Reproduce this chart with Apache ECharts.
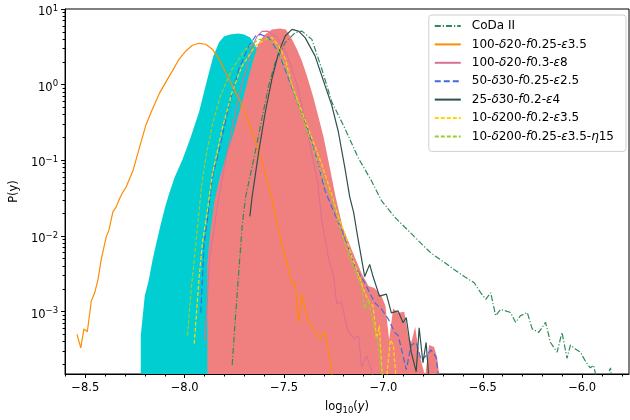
<!DOCTYPE html>
<html>
<head>
<meta charset="utf-8">
<script src="https://cdn.jsdelivr.net/npm/echarts@6/dist/echarts.min.js"></script>
<style>
  html, body { margin: 0; padding: 0; background: #fff; }
  #chart { width: 630px; height: 420px; }
</style>
</head>
<body>
<div id="chart"></div>
<script>
// tick positions
const xMajor = [-8.5, -8.0, -7.5, -7.0, -6.5, -6.0];
const xMinor = [-8.6, -8.4, -8.3, -8.2, -8.1, -7.9, -7.8, -7.7, -7.6, -7.4, -7.3, -7.2, -7.1,
  -6.9, -6.8, -6.7, -6.6, -6.4, -6.3, -6.2, -6.1, -5.9, -5.8];
const yMajor = [1e-3, 1e-2, 1e-1, 1, 10];

// shaded ensembles [log10(y), P]
const cyanFill = [[-8.221,4.8e-4],[-8.201,1.6e-3],[-8.181,2.6e-3],[-8.161,4.9e-3],[-8.141,8.4e-3],
  [-8.121,0.014],[-8.101,0.0226],[-8.081,0.0344],[-8.051,0.059],[-8.011,0.102],[-7.971,0.197],
  [-7.927,0.443],[-7.901,0.83],[-7.877,1.47],[-7.856,2.38],[-7.827,3.63],[-7.801,4.35],[-7.771,4.6],
  [-7.731,4.75],[-7.701,4.6],[-7.671,4.2],[-7.631,2.94],[-7.581,1.61],[-7.531,0.65],[-7.481,0.197],
  [-7.431,0.044],[-7.380,7.2e-3],[-7.330,1.6e-3],[-7.280,4.8e-4],[-7.240,1.2e-4]];

const pinkFill = [[-7.886,4.3e-3],[-7.871,0.0113],[-7.851,0.0279],[-7.826,0.0557],[-7.791,0.115],
  [-7.761,0.197],[-7.731,0.381],[-7.706,0.655],[-7.681,1.19],[-7.656,2.05],[-7.631,3.42],[-7.601,4.48],
  [-7.561,5.37],[-7.521,5.54],[-7.491,5.37],[-7.460,3.97],[-7.435,2.94],[-7.410,2.05],[-7.385,1.31],
  [-7.355,0.716],[-7.325,0.359],[-7.300,0.197],[-7.270,0.08],[-7.240,0.0324],[-7.205,0.0131],
  [-7.160,6.6e-3],[-7.110,3.2e-3],[-7.075,2.17e-3],[-7.045,2.04e-3],[-7.010,1.6e-3],[-6.990,1.2e-3],
  [-6.971,4.2e-4],[-6.951,1.1e-3],[-6.925,9.6e-4],[-6.895,9.9e-4],[-6.875,4.8e-4],[-6.860,3.9e-4],
  [-6.840,6.3e-4],[-6.825,3.3e-4],[-6.805,1.96e-4],[-6.790,1.4e-4],[-6.770,3.6e-4],[-6.745,3.4e-4],
  [-6.730,2.5e-4],[-6.715,1.2e-4]];

// model curves
const coda = [[-7.761,1.96e-4],[-7.744,8.8e-4],[-7.727,3.58e-3],[-7.711,0.0131],[-7.694,0.0324],
  [-7.683,0.0438],[-7.644,0.132],[-7.611,0.359],[-7.577,0.977],[-7.544,1.97],[-7.494,3.6],[-7.444,4.86],
  [-7.410,5.1],[-7.360,3.97],[-7.310,1.61],[-7.260,0.593],[-7.194,0.265],[-7.127,0.108],[-7.060,0.0535],
  [-7.010,0.0293],[-6.943,0.0177],[-6.843,9.7e-3],[-6.760,5.9e-3],[-6.710,4.8e-3],[-6.643,3.58e-3],
  [-6.593,2.9e-3],[-6.543,2.4e-3],[-6.510,1.77e-3],[-6.485,1.45e-3],[-6.460,1.77e-3],[-6.435,8.8e-4],
  [-6.410,1.07e-3],[-6.360,9.7e-4],[-6.335,7.2e-4],[-6.310,8.8e-4],[-6.276,9.7e-4],[-6.251,5.9e-4],
  [-6.218,5.3e-4],[-6.184,7.2e-4],[-6.159,3.9e-4],[-6.126,2.9e-4],[-6.101,5.3e-4],[-6.076,2.4e-4],
  [-6.059,3.6e-4],[-6.034,3.2e-4],[-6.009,2.9e-4],[-5.983,2.2e-4],[-5.959,1.8e-4],[-5.942,1.95e-4],
  [-5.925,1.2e-4],[-5.890,1.1e-4],[-5.857,1.8e-4],[-5.850,1.1e-4]];

const run100a = [[-8.542,5.0e-4],[-8.523,3.3e-4],[-8.507,5.9e-4],[-8.490,5.4e-4],[-8.470,1.38e-3],
  [-8.453,1.77e-3],[-8.436,2.67e-3],[-8.420,4.9e-3],[-8.395,9.7e-3],[-8.381,0.012],[-8.361,0.021],
  [-8.345,0.024],[-8.328,0.031],[-8.311,0.038],[-8.295,0.044],[-8.261,0.072],[-8.228,0.146],[-8.195,0.293],
  [-8.161,0.484],[-8.128,0.76],[-8.095,1.08],[-8.061,1.53],[-8.028,2.18],[-7.994,2.79],[-7.961,3.32],
  [-7.927,3.52],[-7.894,3.42],[-7.861,2.94],[-7.827,2.18],[-7.794,1.46],[-7.761,0.977],[-7.727,0.655],
  [-7.694,0.396],[-7.661,0.24],[-7.627,0.132],[-7.594,0.065],[-7.561,0.032],[-7.544,0.018],[-7.494,5.3e-3],
  [-7.460,2.4e-3],[-7.444,2.4e-3],[-7.427,7.2e-4],[-7.410,1.7e-3],[-7.377,7.2e-4],[-7.344,5.6e-4],
  [-7.319,4.4e-4],[-7.294,5.3e-4],[-7.269,2.4e-4],[-7.255,1.2e-4]];

const run100b = [[-7.901,4.1e-4],[-7.886,1.3e-3],[-7.876,4.9e-3],[-7.851,0.0132],[-7.826,0.0355],
  [-7.801,0.08],[-7.771,0.197],[-7.741,0.485],[-7.711,1.03],[-7.686,1.71],[-7.661,3.13],[-7.636,4.35],
  [-7.611,5.06],[-7.581,5.1],[-7.536,4.2],[-7.486,2.53],[-7.436,1.03],[-7.396,0.359],[-7.361,0.125],
  [-7.331,0.0508],[-7.311,0.0167],[-7.275,4.9e-3],[-7.250,2.9e-3],[-7.235,1.26e-3],[-7.210,1.34e-3],
  [-7.190,7.3e-4],[-7.175,5.3e-4],[-7.160,4.8e-4],[-7.145,4.4e-4],[-7.125,4.8e-4],[-7.110,1.85e-4],
  [-7.085,2.6e-4],[-7.060,1.7e-4],[-7.045,1.2e-4]];

const run50 = [[-7.919,9.7e-4],[-7.902,7.96e-3],[-7.886,0.0162],[-7.861,0.059],[-7.827,0.133],
  [-7.777,0.535],[-7.727,1.61],[-7.677,3.25],[-7.644,4.39],[-7.619,4.62],[-7.577,4.18],[-7.527,2.67],
  [-7.477,1.19],[-7.427,0.535],[-7.377,0.24],[-7.327,0.088],[-7.294,0.0396],[-7.245,0.0196],[-7.210,0.012],
  [-7.177,7.2e-3],[-7.144,3.95e-3],[-7.094,2.4e-3],[-7.044,1.31e-3],[-7.010,1.08e-3],[-6.976,8.0e-4],
  [-6.943,5.3e-4],[-6.925,4.8e-4],[-6.901,2.6e-4],[-6.885,1.7e-4],[-6.860,3.6e-4],[-6.835,3.9e-4],
  [-6.810,2.3e-4],[-6.785,2.6e-4],[-6.760,3.1e-4],[-6.735,2.5e-4],[-6.720,1.2e-4]];

const run25 = [[-7.672,0.0181],[-7.661,0.0324],[-7.627,0.132],[-7.594,0.438],[-7.561,1.19],[-7.527,2.67],
  [-7.494,4.39],[-7.460,5.37],[-7.427,5.1],[-7.394,4.18],[-7.344,2.40],[-7.294,0.977],[-7.260,0.535],
  [-7.227,0.24],[-7.194,0.08],[-7.169,0.0324],[-7.150,0.0206],[-7.127,8.9e-3],[-7.094,2.9e-3],
  [-7.069,4.2e-3],[-7.052,2.9e-3],[-7.020,1.6e-3],[-6.985,1.7e-3],[-6.960,9.6e-4],[-6.926,1.02e-3],
  [-6.901,7.1e-4],[-6.885,8.3e-4],[-6.860,2.9e-4],[-6.835,1.6e-4],[-6.820,6.1e-4],[-6.801,2.1e-4],
  [-6.785,3.9e-4],[-6.770,1.2e-4]];

const run10a = [[-7.952,3.75e-4],[-7.927,2.9e-3],[-7.911,7.96e-3],[-7.886,0.0217],[-7.861,0.065],
  [-7.811,0.265],[-7.761,0.80],[-7.711,1.78],[-7.644,3.25],[-7.594,3.97],[-7.561,4.18],[-7.527,3.25],
  [-7.494,2.18],[-7.460,0.977],[-7.410,0.438],[-7.360,0.197],[-7.310,0.088],[-7.261,0.0358],
  [-7.227,0.0177],[-7.194,0.0107],[-7.160,5.3e-3],[-7.127,3.2e-3],[-7.094,1.77e-3],[-7.070,1.3e-3],
  [-7.052,1.19e-3],[-7.035,4.4e-4],[-7.020,6.5e-4],[-7.005,1.2e-4],[-6.985,1.2e-4],[-6.965,4.2e-4],
  [-6.950,3.6e-4],[-6.935,1.2e-4]];

const run10b = [[-7.986,4.8e-4],[-7.969,1.77e-3],[-7.952,4.9e-3],[-7.927,0.0217],[-7.916,0.0437],
  [-7.894,0.108],[-7.861,0.293],[-7.819,0.723],[-7.761,1.61],[-7.694,2.94],[-7.627,3.97],[-7.577,3.97],
  [-7.544,3.42],[-7.494,1.78],[-7.444,0.723],[-7.394,0.293],[-7.344,0.119],[-7.294,0.0483],[-7.260,0.0324],
  [-7.210,0.0107],[-7.177,5.9e-3],[-7.144,3.6e-3],[-7.111,2.17e-3],[-7.094,1.07e-3],[-7.077,1.47e-3],
  [-7.052,7.1e-4],[-7.027,3.9e-4],[-7.020,2.6e-4],[-6.995,1.2e-4]];

const FONT = 'DejaVu Sans';

function fillSeries(name, data, color) {
  return {
    name: name, type: 'line', data: data, symbol: 'none', silent: true,
    lineStyle: { width: 0 },
    areaStyle: { color: color, opacity: 1, origin: 'start' },
    emphasis: { disabled: true }
  };
}

function curve(name, data, color, width, dash) {
  return {
    name: name, type: 'line', data: data, symbol: 'none', silent: true,
    lineStyle: { color: color, width: width, type: dash || 'solid' },
    itemStyle: { color: color },
    emphasis: { disabled: true }
  };
}

const chart = echarts.init(document.getElementById('chart'));

const legendNames = ['CoDa II', '100-δ20-f0.25-ε3.5', '100-δ20-f0.3-ε8', '50-δ30-f0.25-ε2.5',
  '25-δ30-f0.2-ε4', '10-δ200-f0.2-ε3.5', '10-δ200-f0.25-ε3.5-η15'];

const yMinor = [];
for (let e = -4; e <= 0; e++) {
  for (let k = 2; k <= 9; k++) yMinor.push(k * Math.pow(10, e));
}

function expLabel(v) {
  const e = Math.round(Math.log10(v));
  return '10{s|' + (e < 0 ? '\u2212' + (-e) : e) + '}';
}

const option = {
  animation: false,
  grid: { left: 62, right: 1, top: 9, bottom: 41, show: true, borderColor: '#000', borderWidth: 1 },
  legend: {
    data: legendNames,
    orient: 'vertical', right: 4, top: 15,
    itemWidth: 26, itemHeight: 12, itemGap: 6.4,
    padding: [5, 12, 9, 5],
    borderColor: '#d0d0d0', borderWidth: 1, borderRadius: 3,
    backgroundColor: 'rgba(255,255,255,0.8)',
    selectedMode: false,
    itemStyle: { opacity: 0, color: 'rgba(0,0,0,0)', borderWidth: 0 },
    formatter: function (name) {
      return name.replace(/([δεη])/g, '{i|$1}').replace(/-f/g, '-{i|f}');
    },
    textStyle: {
      fontFamily: FONT, fontSize: 12, color: '#000', padding: [0, 0, 0, 6],
      rich: { i: { fontFamily: FONT, fontSize: 12, fontStyle: 'italic', color: '#000' } }
    }
  },
  xAxis: [{
    type: 'value', min: -8.602, max: -5.764, position: 'bottom',
    axisLine: { show: true, onZero: false, lineStyle: { color: '#000', width: 1 } },
    axisTick: { show: true, customValues: xMajor, length: 4, lineStyle: { color: '#000' } },
    axisLabel: {
      customValues: xMajor, margin: 8, color: '#000', fontFamily: FONT, fontSize: 11.5,
      formatter: function (v) { return v.toFixed(1).replace('-', '\u2212'); }
    },
    splitLine: { show: false },
    name: '{n|log}{s|10}{n|(}{i|y}{n|)}', nameLocation: 'middle', nameGap: 25,
    nameTextStyle: {
      rich: {
        n: { fontFamily: FONT, fontSize: 11.5, color: '#000' },
        s: { fontFamily: FONT, fontSize: 8.5, color: '#000', padding: [7, 0, 0, 0] },
        i: { fontFamily: FONT, fontSize: 11.5, fontStyle: 'italic', color: '#000' }
      }
    }
  }, {
    type: 'value', min: -8.602, max: -5.764, position: 'bottom',
    axisLine: { show: false },
    axisTick: { show: true, customValues: xMinor, length: 2.5, lineStyle: { color: '#000' } },
    axisLabel: { show: false },
    splitLine: { show: false }
  }],
  yAxis: [{
    type: 'log', logBase: 10, min: 1.493e-4, max: 10, position: 'left',
    axisLine: { show: true, onZero: false, lineStyle: { color: '#000', width: 1 } },
    axisTick: { show: true, customValues: yMajor, length: 4, lineStyle: { color: '#000' } },
    axisLabel: {
      customValues: yMajor, margin: 7, formatter: expLabel, padding: [6, 0, 0, 0],
      rich: {
        s: { fontFamily: FONT, fontSize: 8.5, color: '#000', padding: [0, 0, 7, 0] }
      },
      fontFamily: FONT, fontSize: 11.5, color: '#000'
    },
    splitLine: { show: false },
    name: 'P(y)', nameLocation: 'middle', nameGap: 42,
    nameTextStyle: { fontFamily: FONT, fontSize: 11.5, color: '#000' }
  }, {
    type: 'log', logBase: 10, min: 1.493e-4, max: 10, position: 'left',
    axisLine: { show: false },
    axisTick: { show: true, customValues: yMinor, length: 2.5, lineStyle: { color: '#000' } },
    axisLabel: { show: false },
    splitLine: { show: false }
  }],
  series: [
    fillSeries('cyanFill', cyanFill, '#00ced1'),
    fillSeries('pinkFill', pinkFill, '#f08080'),
    curve('CoDa II', coda, '#2e8b57', 1.2, [6, 2, 1.2, 2]),
    curve('100-δ20-f0.25-ε3.5', run100a, '#ff8c00', 1.2),
    curve('100-δ20-f0.3-ε8', run100b, '#db7093', 1.1),
    curve('50-δ30-f0.25-ε2.5', run50, '#4169e1', 1.2, [6, 3]),
    curve('25-δ30-f0.2-ε4', run25, '#2f4f4f', 1.2),
    curve('10-δ200-f0.2-ε3.5', run10a, '#ffd700', 1.2, [4, 2]),
    curve('10-δ200-f0.25-ε3.5-η15', run10b, '#9acd32', 1.2, [4, 2])
  ]
};

chart.setOption(option);
</script>
</body>
</html>
